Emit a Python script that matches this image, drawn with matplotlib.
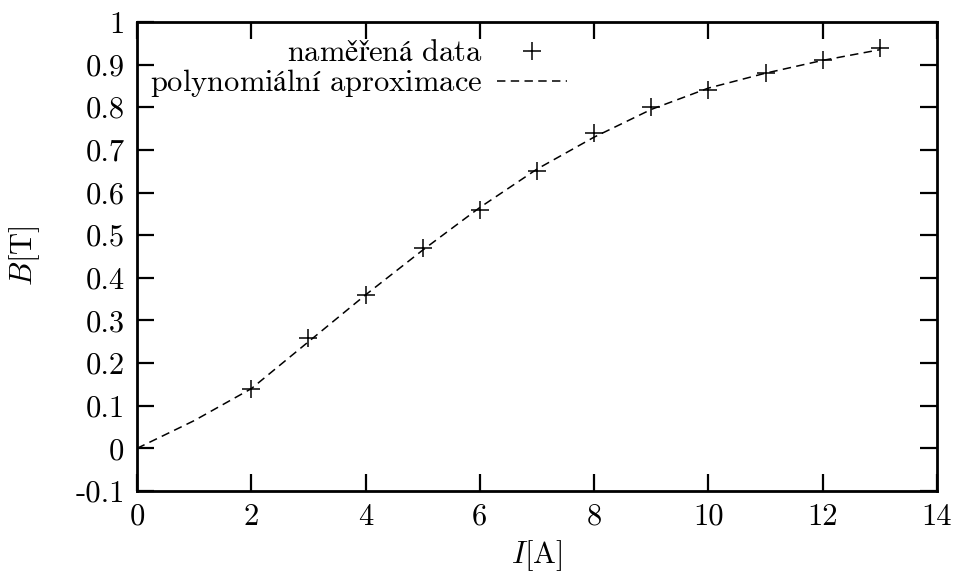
import matplotlib
matplotlib.use("Agg")
import matplotlib.pyplot as plt
import numpy as np

I_data = [2, 3, 4, 5, 6, 7, 8, 9, 10, 11, 12, 13]
B_data = [0.14, 0.26, 0.36, 0.47, 0.56, 0.65, 0.74, 0.80, 0.84, 0.88, 0.91, 0.94]

# dashed approximation curve, read at whole amperes
I_fit = [0, 1, 2, 3, 4, 5, 6, 7, 8, 9, 10, 11, 12, 13]
B_fit = [0.0, 0.065, 0.14, 0.25, 0.36, 0.465, 0.565, 0.655, 0.73, 0.795, 0.845, 0.88, 0.91, 0.935]

xticks = [0, 2, 4, 6, 8, 10, 12, 14]
yticks = [-0.1, 0, 0.1, 0.2, 0.3, 0.4, 0.5, 0.6, 0.7, 0.8, 0.9, 1]
ytick_labels = ["-0.1", "0", "0.1", "0.2", "0.3", "0.4", "0.5", "0.6", "0.7", "0.8", "0.9", "1"]

plt.rcParams['font.family'] = ['cmr10', 'DejaVu Serif']
plt.rcParams['mathtext.fontset'] = 'cm'
plt.rcParams['axes.unicode_minus'] = False
fs = 22

fig = plt.figure(figsize=(9.63, 5.75), dpi=100)
ax = fig.add_axes([137/963, 84/575, 800/963, 469/575])

ax.plot(I_data, B_data, ls='none', marker='+', ms=13, mew=1.1, color='black',
        label=r'$\mathrm{naměřená\ data}$')
ax.plot(I_fit, B_fit, ls=(0, (5.5, 3.5)), lw=1.1, color='black',
        label=r'$\mathrm{polynomiální\ aproximace}$')

ax.set_xlim(0, 14)
ax.set_ylim(-0.1, 1)
ax.set_xticks(xticks)
ax.set_xticklabels([str(t) for t in xticks], fontsize=fs)
ax.set_yticks(yticks)
ax.set_yticklabels(ytick_labels, fontsize=fs)
ax.tick_params(direction='in', top=True, right=True, length=12, width=1.6, pad=9)
for s in ax.spines.values():
    s.set_linewidth(2.0)

ax.set_ylabel(r'$B$[T]', fontsize=fs, rotation=90, ha='center', va='center')
ax.yaxis.set_label_coords(-0.141, 0.501)
ax.set_xlabel(r'$I$[A]', fontsize=fs, ha='center', va='center')
ax.xaxis.set_label_coords(0.5, -0.138)

ax.legend(loc='upper right', bbox_to_anchor=(0.5375, 0.962), markerfirst=False,
          frameon=False, fontsize=fs, borderpad=0, borderaxespad=0,
          handlelength=2.3, handletextpad=0.46, labelspacing=0.0)

fig.savefig('out.png', dpi=100)
